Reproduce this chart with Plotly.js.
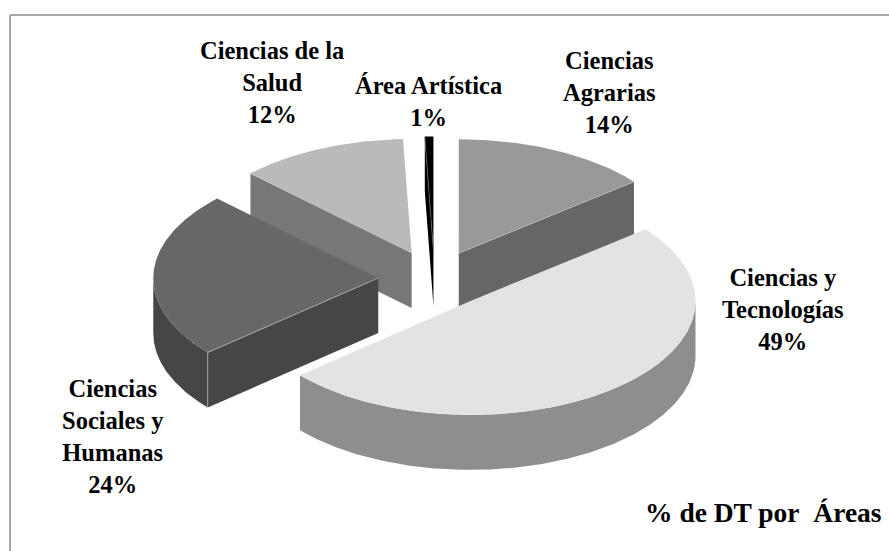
<!DOCTYPE html>
<html>
<head>
<meta charset="utf-8">
<script src="https://cdn.plot.ly/plotly-3.0.1.min.js"></script>
<style>html,body{margin:0;padding:0;background:#fff}#chart{width:889px;height:551px}</style>
</head>
<body>
<div id="chart"></div>
<script>
// Data (clockwise from 12 o'clock)
var categories = ['Ciencias<br>Agrarias', 'Ciencias y<br>Tecnologías', 'Ciencias<br>Sociales y<br>Humanas', 'Ciencias de la<br>Salud', 'Área Artística'];
var values = [14.2, 49.49, 23.6, 12.1, 0.61];
var percentLabels = ['14%', '49%', '24%', '12%', '1%'];
var chartTitle = '% de DT por&nbsp;&nbsp;Áreas';
var topColors = ['#98999b', '#e2e3e5', '#666769', '#b9babc', '#000000'];
var wallColors = ['#656668', '#8d8e90', '#464547', '#767779', '#000000'];
var labelCenters = [[609, 92], [783, 309], [113, 436], [272, 82], [428, 101]];
var drawOrder = [3, 0, 4, 2, 1];

// Oblique pie projection
var view = {cx: 434.5, cy: 279, rx: 225, ry: 114, depth: 55, explode: 0.25};

function pt(a, r, ox, oy, dz) {
  return [ox + view.rx * r * Math.sin(a), oy - view.ry * r * Math.cos(a) + (dz || 0)];
}
function toXY(points) {
  return {x: points.map(function (p) { return p[0]; }), y: points.map(function (p) { return p[1]; })};
}
function arc(a0, a1, ox, oy, dz) {
  var out = [], n = Math.max(2, Math.ceil(Math.abs(a1 - a0) / 0.01));
  for (var i = 0; i <= n; i++) out.push(pt(a0 + (a1 - a0) * i / n, 1, ox, oy, dz));
  return out;
}
function fillTrace(name, points, color) {
  var xy = toXY(points);
  return {type: 'scatter', mode: 'lines', name: name, x: xy.x, y: xy.y, fill: 'toself', fillcolor: color,
          line: {width: 0, color: color}, hoverinfo: 'skip', showlegend: false};
}
function edgeTrace(name, points, color) {
  var xy = toXY(points);
  return {type: 'scatter', mode: 'lines', name: name, x: xy.x, y: xy.y,
          line: {width: 0.7, color: color}, hoverinfo: 'skip', showlegend: false};
}

var total = values.reduce(function (s, v) { return s + v; }, 0);
var slices = [], running = 0;
values.forEach(function (v) {
  var s = running / total * 2 * Math.PI;
  running += v;
  var e = running / total * 2 * Math.PI, m = (s + e) / 2;
  slices.push({s: s, e: e, ox: view.cx + view.rx * view.explode * Math.sin(m), oy: view.cy - view.ry * view.explode * Math.cos(m)});
});

var traces = [];
drawOrder.forEach(function (i) {
  var sl = slices[i], d = view.depth, name = categories[i].replace(/<br>/g, ' ');
  var tip = [sl.ox, sl.oy], tipDown = [sl.ox, sl.oy + d];
  var edge = i === 4 ? '#6a6a6a' : '#bdbdbd';
  // cut faces that turn toward the viewer
  if (Math.sin(sl.s) < 0) {
    var a = pt(sl.s, 1, sl.ox, sl.oy), b = pt(sl.s, 1, sl.ox, sl.oy, d);
    traces.push(fillTrace(name + ' corte', [tip, a, b, tipDown, tip], wallColors[i]));
  }
  if (Math.sin(sl.e) > 0) {
    var c = pt(sl.e, 1, sl.ox, sl.oy), f = pt(sl.e, 1, sl.ox, sl.oy, d);
    traces.push(fillTrace(name + ' corte', [tip, c, f, tipDown, tip], wallColors[i]));
  }
  // outer wall on the near half of the ellipse
  var w0 = Math.max(sl.s, Math.PI / 2), w1 = Math.min(sl.e, 3 * Math.PI / 2);
  if (w1 > w0) {
    traces.push(fillTrace(name + ' pared', arc(w0, w1, sl.ox, sl.oy).concat(arc(w1, w0, sl.ox, sl.oy, d)), wallColors[i]));
  }
  // top face
  traces.push(fillTrace(name, [tip].concat(arc(sl.s, sl.e, sl.ox, sl.oy)).concat([tip]), topColors[i]));
  // thin highlights where a cut face meets the top face
  if (Math.sin(sl.s) < 0) traces.push(edgeTrace(name + ' borde', [pt(sl.s, 1, sl.ox, sl.oy), tip], edge));
  if (Math.sin(sl.e) > 0) traces.push(edgeTrace(name + ' borde', [pt(sl.e, 1, sl.ox, sl.oy), tip], edge));
  if (i === 2) traces.push(edgeTrace(name + ' borde', [pt(sl.s, 1, sl.ox, sl.oy), pt(sl.s, 1, sl.ox, sl.oy, d)], edge));
});

var font = {family: 'Liberation Serif, Times New Roman, serif', size: 24.5, color: '#000'};
var annotations = categories.map(function (c, i) {
  return {xref: 'x', yref: 'y', x: labelCenters[i][0], y: labelCenters[i][1], text: '<b>' + c + '<br>' + percentLabels[i] + '</b>',
          showarrow: false, align: 'center', xanchor: 'center', yanchor: 'middle', font: font};
});
annotations.push({xref: 'x', yref: 'y', x: 884, y: 512, text: '<b>' + chartTitle + '</b>', showarrow: false,
                  xanchor: 'right', yanchor: 'middle', font: {family: font.family, size: 27.5, color: '#000'}});

var layout = {
  width: 889, height: 551, margin: {l: 0, r: 0, t: 0, b: 0}, paper_bgcolor: '#fff', plot_bgcolor: '#fff',
  xaxis: {range: [0, 889], visible: false, fixedrange: true},
  yaxis: {range: [551, 0], visible: false, fixedrange: true},
  showlegend: false, annotations: annotations,
  shapes: [
    {type: 'line', xref: 'x', yref: 'y', x0: 10, y0: 15, x1: 889, y1: 15, line: {color: '#a8a8a8', width: 2}},
    {type: 'line', xref: 'x', yref: 'y', x0: 10, y0: 15, x1: 10, y1: 551, line: {color: '#a8a8a8', width: 2}}
  ]
};
Plotly.newPlot('chart', traces, layout, {displayModeBar: false, staticPlot: true});
</script>
</body>
</html>
